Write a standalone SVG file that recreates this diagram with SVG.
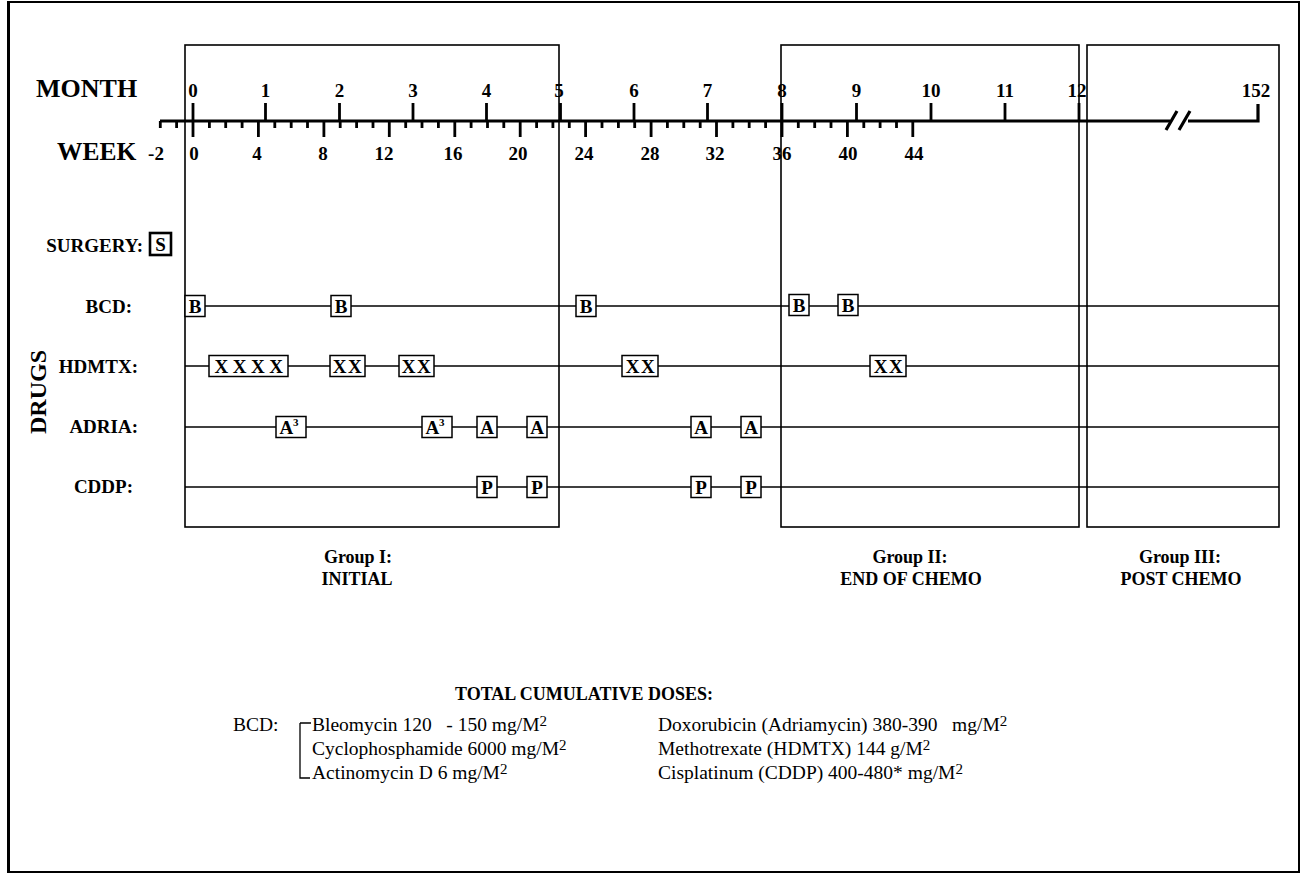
<svg xmlns="http://www.w3.org/2000/svg" width="1302" height="875" viewBox="0 0 1302 875">
<style>
text{font-family:"Liberation Serif","Times New Roman",serif;fill:#000}
.b{font-weight:bold}
.ml{font-size:19px;font-weight:bold;text-anchor:middle}
.lab{font-size:19px;font-weight:bold;text-anchor:end}
.grp{font-size:18px;font-weight:bold;text-anchor:middle}
.dose{font-size:19.5px}
.sup{font-size:15px}
.frame{fill:none;stroke:#000;stroke-width:1.6}
.axis{fill:none;stroke:#000;stroke-width:3.2}
.tick{fill:none;stroke:#000;stroke-width:2.8}
.row{stroke:#000;stroke-width:1.6}
.bx rect{fill:#fff;stroke:#000;stroke-width:1.5}
.bx text{font-size:19px;font-weight:bold;text-anchor:middle}
</style>
<rect width="1302" height="875" fill="#fff"/>
<rect x="8" y="2" width="1291" height="870" fill="none" stroke="#000" stroke-width="2"/>
<line x1="8.5" y1="2" x2="8.5" y2="872" stroke="#000" stroke-width="3"/>

<g id="timeline">
<text x="36" y="97" class="b" font-size="26">MONTH</text>
<text x="57" y="160" class="b" font-size="25.5">WEEK</text>
<path class="axis" d="M160 121H1170M1188 121H1258V104"/>
<path class="axis" d="M1166 130L1177 111M1179 130L1190 111"/>
<path class="tick" d="M193 121V103M265.5 121V103M339.5 121V103M413 121V103M486.5 121V103M560.5 121V103M634 121V103M707.5 121V103M782 121V103M856.5 121V103M931 121V103M1005 121V103M1079 121V103"/>
<path class="tick" d="M160.3 121V128M176.6 121V128M209.4 121V128M225.7 121V128M242.1 121V128M274.8 121V128M291.2 121V128M307.5 121V128M340.2 121V128M356.6 121V128M373 121V128M405.7 121V128M422 121V128M438.4 121V128M471.1 121V128M487.5 121V128M503.8 121V128M536.6 121V128M552.9 121V128M569.3 121V128M602 121V128M618.4 121V128M634.7 121V128M667.4 121V128M683.8 121V128M700.2 121V128M732.9 121V128M749.2 121V128M765.6 121V128M798.3 121V128M814.7 121V128M831 121V128M863.8 121V128M880.1 121V128M896.5 121V128"/>
<path class="tick" d="M193 121V137M258.4 121V137M323.9 121V137M389.3 121V137M454.8 121V137M520.2 121V137M585.6 121V137M651.1 121V137M716.5 121V137M782 121V137M847.4 121V137M912.8 121V137"/>
<g class="ml">
<text x="193" y="97">0</text><text x="265.5" y="97">1</text><text x="339.5" y="97">2</text><text x="413" y="97">3</text><text x="486.5" y="97">4</text><text x="559" y="97">5</text><text x="634" y="97">6</text><text x="707.5" y="97">7</text><text x="782" y="97">8</text><text x="856.5" y="97">9</text><text x="931" y="97">10</text><text x="1005" y="97">11</text><text x="1077" y="97">12</text><text x="1256" y="97">152</text>
<text x="156" y="160">-2</text><text x="194" y="160">0</text><text x="257" y="160">4</text><text x="323" y="160">8</text><text x="384" y="160">12</text><text x="453" y="160">16</text><text x="518" y="160">20</text><text x="584" y="160">24</text><text x="650" y="160">28</text><text x="715" y="160">32</text><text x="782" y="160">36</text><text x="848" y="160">40</text><text x="914" y="160">44</text>
</g>
</g>

<g id="periods">
<rect class="frame" x="185" y="45" width="374" height="482"/>
<rect class="frame" x="781" y="45" width="298" height="482"/>
<rect class="frame" x="1087" y="45" width="192" height="482"/>
<text class="grp" x="358" y="563">Group I:</text><text class="grp" x="357" y="585">INITIAL</text>
<text class="grp" x="910" y="563">Group II:</text><text class="grp" x="911" y="585">END OF CHEMO</text>
<text class="grp" x="1180" y="563">Group III:</text><text class="grp" x="1181" y="585">POST CHEMO</text>
</g>

<g id="labels">
<text class="lab" x="143" y="252" font-size="20.5">SURGERY:</text>
<text class="lab" x="132" y="313">BCD:</text>
<text class="lab" x="138" y="373">HDMTX:</text>
<text class="lab" x="138" y="433">ADRIA:</text>
<text class="lab" x="133" y="493">CDDP:</text>
<text class="b" font-size="24" text-anchor="middle" transform="translate(46 392) rotate(-90)">DRUGS</text>
</g>

<g id="connectors">
<line class="row" x1="185" y1="306" x2="1279" y2="306"/>
<line class="row" x1="185" y1="366" x2="1279" y2="366"/>
<line class="row" x1="185" y1="427" x2="1279" y2="427"/>
<line class="row" x1="185" y1="487" x2="1279" y2="487"/>
</g>

<g id="surgery" class="bx"><rect x="150" y="233" width="21" height="22" style="stroke-width:2.6"/><text x="160.5" y="251">S</text></g>

<g id="bcd">
<g id="bcd1" class="bx"><rect x="185" y="295.5" width="20" height="21"/><text x="195" y="312.5">B</text></g>
<g id="bcd2" class="bx"><rect x="331" y="295.5" width="20" height="21"/><text x="341" y="312.5">B</text></g>
<g id="bcd3" class="bx"><rect x="576" y="295.5" width="20" height="21"/><text x="586" y="312.5">B</text></g>
<g id="bcd4" class="bx"><rect x="789" y="294.5" width="20" height="21"/><text x="799" y="311.5">B</text></g>
<g id="bcd5" class="bx"><rect x="838" y="294.5" width="20" height="21"/><text x="848" y="311.5">B</text></g>
</g>

<g id="hdmtx">
<g id="hd1" class="bx"><rect x="209" y="355.5" width="79" height="21"/><text x="251" y="372.5" letter-spacing="4.5">XXXX</text></g>
<g id="hd2" class="bx"><rect x="330" y="355.5" width="35" height="21"/><text x="348" y="372.5" letter-spacing="1.5">XX</text></g>
<g id="hd3" class="bx"><rect x="399" y="355.5" width="35" height="21"/><text x="417" y="372.5" letter-spacing="1.5">XX</text></g>
<g id="hd4" class="bx"><rect x="622" y="355.5" width="36" height="21"/><text x="641" y="372.5" letter-spacing="1.5">XX</text></g>
<g id="hd5" class="bx"><rect x="870" y="355.5" width="36" height="21"/><text x="889" y="372.5" letter-spacing="1.5">XX</text></g>
</g>

<g id="adria">
<g id="ad1" class="bx"><rect x="276" y="416.5" width="30" height="21"/><text x="289" y="433.5">A<tspan font-size="11" dy="-8">3</tspan></text></g>
<g id="ad2" class="bx"><rect x="422" y="416.5" width="30" height="21"/><text x="435" y="433.5">A<tspan font-size="11" dy="-8">3</tspan></text></g>
<g id="ad3" class="bx"><rect x="477" y="416.5" width="20" height="21"/><text x="487" y="433.5">A</text></g>
<g id="ad4" class="bx"><rect x="527" y="416.5" width="20" height="21"/><text x="537" y="433.5">A</text></g>
<g id="ad5" class="bx"><rect x="691" y="416.5" width="20" height="21"/><text x="701" y="433.5">A</text></g>
<g id="ad6" class="bx"><rect x="741" y="416.5" width="20" height="21"/><text x="751" y="433.5">A</text></g>
</g>

<g id="cddp">
<g id="cd1" class="bx"><rect x="477" y="476.5" width="20" height="21"/><text x="487" y="493.5">P</text></g>
<g id="cd2" class="bx"><rect x="527" y="476.5" width="20" height="21"/><text x="537" y="493.5">P</text></g>
<g id="cd3" class="bx"><rect x="691" y="476.5" width="20" height="21"/><text x="701" y="493.5">P</text></g>
<g id="cd4" class="bx"><rect x="741" y="476.5" width="20" height="21"/><text x="751" y="493.5">P</text></g>
</g>

<g id="doses">
<text class="b" x="455" y="700" font-size="18">TOTAL CUMULATIVE DOSES:</text>
<text class="dose" x="233" y="731">BCD:</text>
<path d="M300 723H311M300 723V778H310" fill="none" stroke="#000" stroke-width="1.3"/>
<text class="dose" x="312" y="731" xml:space="preserve">Bleomycin 120   - 150 mg/M<tspan class="sup" dy="-5">2</tspan></text>
<text class="dose" x="312" y="755">Cyclophosphamide 6000 mg/M<tspan class="sup" dy="-5">2</tspan></text>
<text class="dose" x="312" y="779">Actinomycin D 6 mg/M<tspan class="sup" dy="-5">2</tspan></text>
<text class="dose" x="658" y="731" xml:space="preserve">Doxorubicin (Adriamycin) 380-390   mg/M<tspan class="sup" dy="-5">2</tspan></text>
<text class="dose" x="658" y="755">Methotrexate (HDMTX) 144 g/M<tspan class="sup" dy="-5">2</tspan></text>
<text class="dose" x="658" y="779">Cisplatinum (CDDP) 400-480* mg/M<tspan class="sup" dy="-5">2</tspan></text>
</g>
</svg>
